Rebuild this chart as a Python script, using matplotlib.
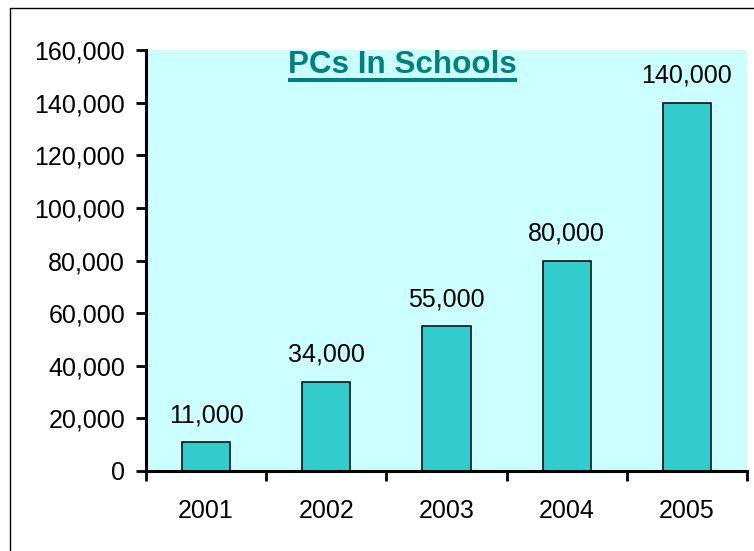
import matplotlib
matplotlib.use("Agg")
import matplotlib.pyplot as plt
from matplotlib.lines import Line2D
from matplotlib.patches import Rectangle
from matplotlib.ticker import FuncFormatter

years = ["2001", "2002", "2003", "2004", "2005"]
pcs = [11000, 34000, 55000, 80000, 140000]
title = "PCs In Schools"

plt.rcParams['font.family'] = ['Liberation Sans', 'DejaVu Sans']

fig = plt.figure(figsize=(7.54, 5.51), dpi=100)
fig.patch.set_facecolor("white")

# outer frame (runs off the right and bottom edges)
fig.patches.append(Rectangle((10 / 754, -0.1), 1.2, 1 - 8 / 551 + 0.1,
                             transform=fig.transFigure, fill=False,
                             edgecolor="black", linewidth=1.0))

ax = fig.add_axes([146 / 754, 1 - 471 / 551, 601 / 754, 421 / 551])
ax.set_facecolor("#CCFFFF")

x = list(range(len(years)))
bars = ax.bar(x, pcs, width=0.4, color="#33CCCC", edgecolor="black", linewidth=1.1)

for xi, v in zip(x, pcs):
    ax.annotate(f"{v:,}", (xi, v), xytext=(0, 14.4), textcoords="offset points",
                ha="center", va="baseline", fontsize=18)

ax.set_xlim(-0.5, len(years) - 0.5)
ax.set_ylim(0, 160000)
ax.set_yticks(range(0, 160001, 20000))
ax.yaxis.set_major_formatter(FuncFormatter(lambda v, p: f"{int(v):,}"))

# tick marks at category boundaries, labels at centres
ax.set_xticks([i - 0.5 for i in range(len(years) + 1)])
ax.set_xticklabels([])
ax.set_xticks(x, minor=True)
ax.set_xticklabels(years, minor=True)
ax.tick_params(axis="x", which="major", direction="out", length=7, width=2)
ax.tick_params(axis="x", which="minor", length=0, pad=20.5, labelsize=18)
ax.tick_params(axis="y", direction="out", length=7, width=2, pad=8, labelsize=18)

for s in ["top", "right"]:
    ax.spines[s].set_visible(False)
for s in ["left", "bottom"]:
    ax.spines[s].set_linewidth(2.2)

t = ax.text(0.427, 1 - 22.7 / 421, title, transform=ax.transAxes, ha="center",
            va="baseline", fontsize=22.6, fontweight="bold", color="#008080")

# underline the title
fig.canvas.draw()
bb = t.get_window_extent()
inv = fig.transFigure.inverted()
(x0, _), (x1, _) = inv.transform([(bb.x0, 0), (bb.x1, 0)])
yline = 1 - 80.3 / 551
fig.lines.append(Line2D([x0, x1], [yline, yline], transform=fig.transFigure,
                        color="#008080", linewidth=2.9, solid_capstyle="butt"))

fig.savefig("out.png", dpi=100)
